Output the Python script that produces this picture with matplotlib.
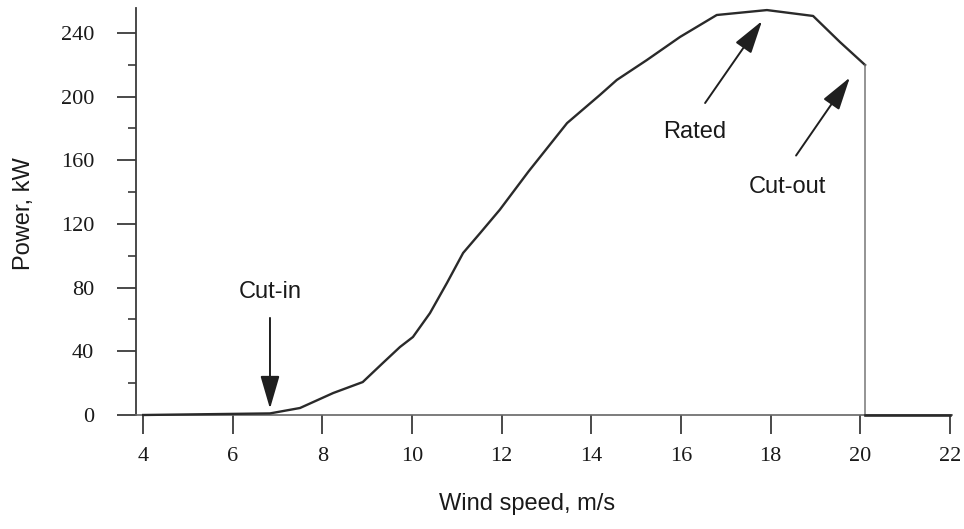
import matplotlib
matplotlib.use("Agg")
import matplotlib.pyplot as plt
from matplotlib.ticker import MultipleLocator

# ---- data ----
wind_speed = [4.0, 6.83, 7.5, 8.24, 8.9, 9.35, 9.73, 10.02, 10.4, 10.78, 11.14,
              11.52, 11.96, 12.6, 13.46, 14.19, 14.57, 15.24, 15.98, 16.8,
              17.92, 18.95, 19.55, 20.11]
power_kw = [0, 1, 4.4, 13.8, 20.7, 32.7, 42.7, 49, 64, 83, 101.8,
            114.3, 129, 153, 183.4, 201, 210.5, 223, 237.5, 251.3,
            254.4, 250.7, 234.3, 219.9]
cutout_speed = 20.11
tail_speed = [20.11, 22.0]
tail_power = [0, 0]

x_ticks = [4, 6, 8, 10, 12, 14, 16, 18, 20, 22]
y_ticks = [0, 40, 80, 120, 160, 200, 240]

# annotations: (text, text pos, arrow tail, arrow tip)
annotations = [
    ("Cut-in", (6.83, 77), (6.83, 61), (6.83, 4)),
    ("Rated", (16.31, 178), (16.54, 196), (17.81, 247.5)),
    ("Cut-out", (18.37, 143), (18.57, 163), (19.77, 212)),
]

W, H = 964, 529
fig = plt.figure(figsize=(W / 100, H / 100), dpi=100)
ax = fig.add_axes([136 / W, 1 - 415 / H, (952 - 136) / W, (415 - 8) / H])

curve_col = "#2a2a2a"
ax.plot(wind_speed, power_kw, color=curve_col, lw=1.7, solid_joinstyle="round",
        zorder=3, clip_on=False)
ax.plot([cutout_speed, cutout_speed], [power_kw[-1], 0], color="#777777", lw=1.1,
        zorder=3, clip_on=False)
ax.plot(tail_speed, tail_power, color=curve_col, lw=1.9, zorder=3, clip_on=False)

ax.set_xlim(3.84, 22.05)
ax.set_ylim(0, 255.7)

for s in ("top", "right"):
    ax.spines[s].set_visible(False)
ax.spines["left"].set_color("#3a3a3a")
ax.spines["left"].set_linewidth(1.3)
ax.spines["bottom"].set_color("#666666")
ax.spines["bottom"].set_linewidth(1.2)

ax.set_xticks(x_ticks)
ax.set_yticks(y_ticks)
ax.yaxis.set_minor_locator(MultipleLocator(20))
ax.tick_params(axis="both", which="major", direction="out", length=14, width=1.3,
               color="#3a3a3a", labelsize=16, labelcolor="#1a1a1a")
ax.tick_params(axis="y", which="minor", direction="out", length=6, width=1.2,
               color="#3a3a3a")
ax.tick_params(axis="y", which="major", pad=16)
ax.tick_params(axis="x", which="major", pad=9)
for lab in ax.get_xticklabels() + ax.get_yticklabels():
    lab.set_fontfamily("Liberation Serif")

fig.text(527.5 / W, 1 - 504 / H, "Wind speed, m/s", ha="center", va="center",
         fontsize=17, family="Liberation Sans", color="#1a1a1a")
fig.text(24 / W, 1 - 214 / H, "Power, kW", ha="center", va="center", rotation=90,
         fontsize=17, family="Liberation Sans", color="#1a1a1a")

for text, tpos, tail, tip in annotations:
    ax.text(tpos[0], tpos[1], text, ha="center", va="center", fontsize=17,
            family="Liberation Sans", color="#1a1a1a")
    ax.annotate("", xy=tip, xytext=tail,
                arrowprops=dict(arrowstyle="-|>,head_length=1.2,head_width=0.35",
                                mutation_scale=17, color="#1f1f1f", lw=1.4,
                                shrinkA=0, shrinkB=0))

fig.savefig("out.png", dpi=100, facecolor="white")
